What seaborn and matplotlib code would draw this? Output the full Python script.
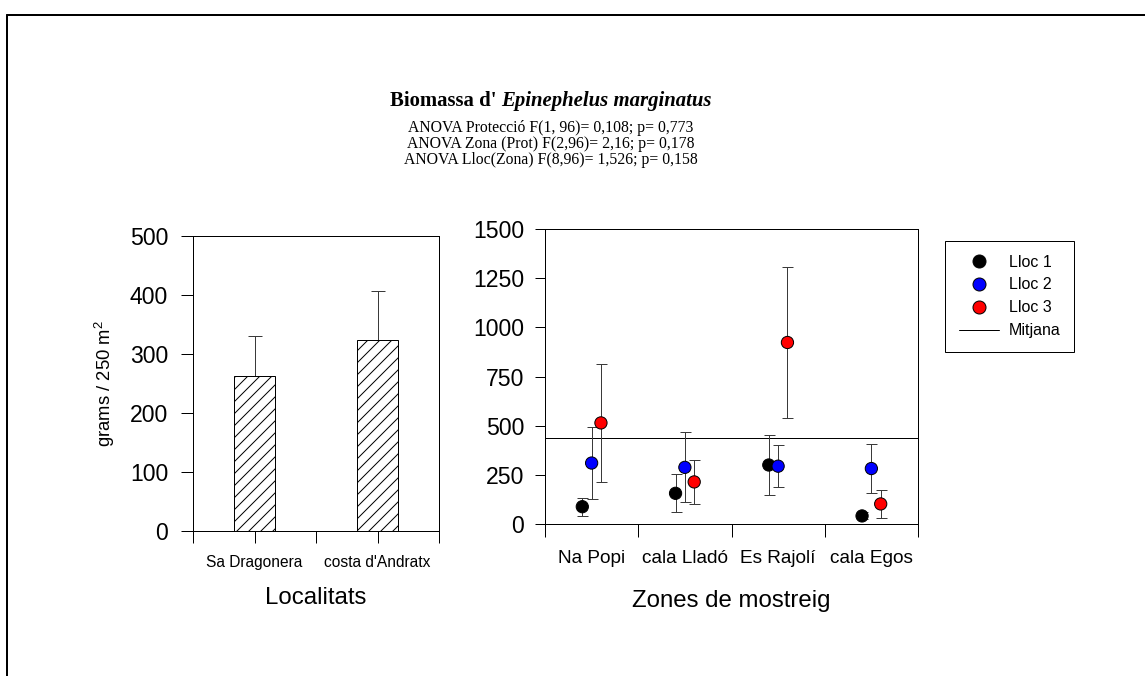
import numpy as np
import pandas as pd
import matplotlib
matplotlib.use('Agg')
import matplotlib.pyplot as plt
import seaborn as sns
from matplotlib.lines import Line2D

# ---------------- data ----------------
localitats = ["Sa Dragonera", "costa d'Andratx"]
biomassa_loc = [263, 323]
err_loc = [68, 83]

zones = ["Na Popi", "cala Lladó", "Es Rajolí", "cala Egos"]
llocs = ["Lloc 1", "Lloc 2", "Lloc 3"]
lloc1 = [88, 156, 300, 41]
lloc1_err = [46, 97, 155, 18]
lloc2 = [310, 288, 294, 282]
lloc2_err = [184, 178, 106, 124]
lloc3 = [514, 214, 923, 102]
lloc3_err = [298, 112, 386, 72]
mitjana = 436

left_yticks = [0, 100, 200, 300, 400, 500]
right_yticks = [0, 250, 500, 750, 1000, 1250, 1500]

title_main = "Biomassa d' "
title_species = "Epinephelus marginatus"
anova_lines = [
    "ANOVA Protecció F(1, 96)= 0,108; p= 0,773",
    "ANOVA Zona (Prot) F(2,96)= 2,16; p= 0,178",
    "ANOVA Lloc(Zona) F(8,96)= 1,526; p= 0,158",
]

# ---------------- style ----------------
sns.set_theme(style='ticks')
plt.rcParams['font.family'] = ['Liberation Sans', 'DejaVu Sans']
plt.rcParams['mathtext.fontset'] = 'custom'
plt.rcParams['mathtext.rm'] = 'Liberation Sans'
plt.rcParams['mathtext.it'] = 'Liberation Sans:italic'
plt.rcParams['hatch.linewidth'] = 1.0
plt.rcParams['axes.linewidth'] = 1.0
plt.rcParams['text.color'] = 'black'
plt.rcParams['axes.labelcolor'] = 'black'
plt.rcParams['xtick.color'] = 'black'
plt.rcParams['ytick.color'] = 'black'

W, H = 1145, 676
DPI = 72
fig = plt.figure(figsize=(W / DPI, H / DPI), dpi=DPI)
fig.patch.set_facecolor('white')


def px_axes(x0, x1, ytop, ybot):
    return fig.add_axes([x0 / W, 1 - ybot / H, (x1 - x0) / W, (ybot - ytop) / H])


ax1 = px_axes(193, 439, 236, 531)
ax2 = px_axes(545, 918, 229, 524)

errcol = '#3a3a3a'

# ---------------- left: bars ----------------
df_loc = pd.DataFrame({'loc': localitats, 'val': biomassa_loc})
sns.barplot(data=df_loc, x='loc', y='val', color='white', edgecolor='black',
            linewidth=1, width=0.333, errorbar=None, ax=ax1, saturation=1, zorder=2)
for p in ax1.patches:
    p.set_hatch('//')
    p.set_facecolor('white')
    p.set_edgecolor('black')
ax1.errorbar(np.arange(len(localitats)), biomassa_loc,
             yerr=[np.zeros(len(err_loc)), err_loc], fmt='none',
             ecolor=errcol, elinewidth=1, capsize=7, capthick=1, zorder=1)
ax1.set_xlim(-0.5, 1.5)
ax1.set_ylim(0, 500)
ax1.set_yticks(left_yticks)
ax1.set_xticks(range(len(localitats)))
ax1.set_xticklabels(localitats)
ax1.set_xticks([-0.5, 0.5, 1.5], minor=True)
ax1.tick_params(axis='y', direction='out', length=12, width=1, pad=13, labelsize=23, colors='black')
ax1.tick_params(axis='x', which='both', direction='out', length=12, width=1, pad=12, labelsize=15.5, colors='black')
ax1.set_ylabel("grams / 250 m$^2$", fontsize=18.5, color='black')
ax1.yaxis.set_label_coords(-0.31, 0.5)
ax1.set_xlabel("Localitats", fontsize=24, color='black')
ax1.xaxis.set_label_coords(0.5, -0.19)
for s in ax1.spines.values():
    s.set_visible(True)
    s.set_color('black')
    s.set_linewidth(1)

# ---------------- right: points ----------------
rows = []
for name, vals, errs in zip(llocs, [lloc1, lloc2, lloc3], [lloc1_err, lloc2_err, lloc3_err]):
    for z, v, e in zip(zones, vals, errs):
        rows.append(dict(zona=z, lloc=name, val=v, err=e))
df = pd.DataFrame(rows)
offsets = {'Lloc 1': -0.1, 'Lloc 2': 0.0, 'Lloc 3': 0.1}
df['xpos'] = df['zona'].map({z: i for i, z in enumerate(zones)}) + df['lloc'].map(offsets)

palette = {'Lloc 1': 'black', 'Lloc 2': '#0000ff', 'Lloc 3': '#ff0000'}

ax2.axhline(mitjana, color='black', lw=1, zorder=1)
ax2.errorbar(df['xpos'], df['val'], yerr=df['err'], fmt='none', ecolor=errcol,
             elinewidth=1, capsize=5.5, capthick=1, zorder=2)
sns.scatterplot(data=df, x='xpos', y='val', hue='lloc', palette=palette, s=150,
                edgecolor='black', linewidth=1, legend=False, ax=ax2, zorder=3)
ax2.set_xlim(-0.5, len(zones) - 0.5)
ax2.set_ylim(0, 1500)
ax2.set_yticks(right_yticks)
ax2.set_xticks(range(len(zones)))
ax2.set_xticklabels(zones)
ax2.set_xticks(np.arange(-0.5, len(zones)), minor=True)
ax2.tick_params(axis='y', direction='out', length=10, width=1, pad=11, labelsize=23, colors='black')
ax2.tick_params(axis='x', which='major', length=0, pad=26, labelsize=19, colors='black')
ax2.tick_params(axis='x', which='minor', direction='out', length=12.5, width=1, colors='black')
ax2.set_ylabel("")
ax2.set_xlabel("Zones de mostreig", fontsize=24, color='black')
ax2.xaxis.set_label_coords(0.5, -0.225)
for s in ax2.spines.values():
    s.set_visible(True)
    s.set_color('black')
    s.set_linewidth(1)

# legend
handles = [Line2D([], [], ls='none', marker='o', ms=13, mfc=palette[l], mec='black', mew=1)
           for l in llocs] + [Line2D([], [], color='black', lw=1)]
leg = fig.legend(handles, llocs + ['Mitjana'], loc='upper left',
                 bbox_to_anchor=(945 / W, 1 - 241 / H), frameon=True, fancybox=False,
                 edgecolor='black', framealpha=1, fontsize=16, handlelength=2.5,
                 handletextpad=0.65, labelspacing=0.49, borderpad=0.85, borderaxespad=0)
leg.get_frame().set_linewidth(1)
for t in leg.get_texts():
    t.set_color('black')

# ---------------- titles ----------------
renderer = fig.canvas.get_renderer()
ty = 1 - 106 / H
t1 = fig.text(0, ty, title_main, fontfamily='Liberation Serif', fontweight='bold',
              fontsize=20.8, va='baseline', ha='left', color='black')
t2 = fig.text(0, ty, title_species, fontfamily='Liberation Serif', fontweight='bold',
              fontstyle='italic', fontsize=20.8, va='baseline', ha='left', color='black')
w1 = t1.get_window_extent(renderer).width
w2 = t2.get_window_extent(renderer).width
x0 = 551 - (w1 + w2) / 2
t1.set_x(x0 / W)
t2.set_x((x0 + w1) / W)

for line, yb in zip(anova_lines, [131.5, 148, 164.5]):
    fig.text(551 / W, 1 - yb / H, line, fontfamily='Liberation Serif', fontsize=15.8,
             ha='center', va='baseline', color='black')

# outer frame (left and top edges)
fig.add_artist(Line2D([7 / W, 7 / W], [0, 1 - 14.5 / H], color='black', lw=2,
                      transform=fig.transFigure))
fig.add_artist(Line2D([7 / W, 1], [1 - 14.5 / H, 1 - 14.5 / H], color='black', lw=2,
                      transform=fig.transFigure))

fig.savefig('out.png', dpi=DPI, facecolor='white')
